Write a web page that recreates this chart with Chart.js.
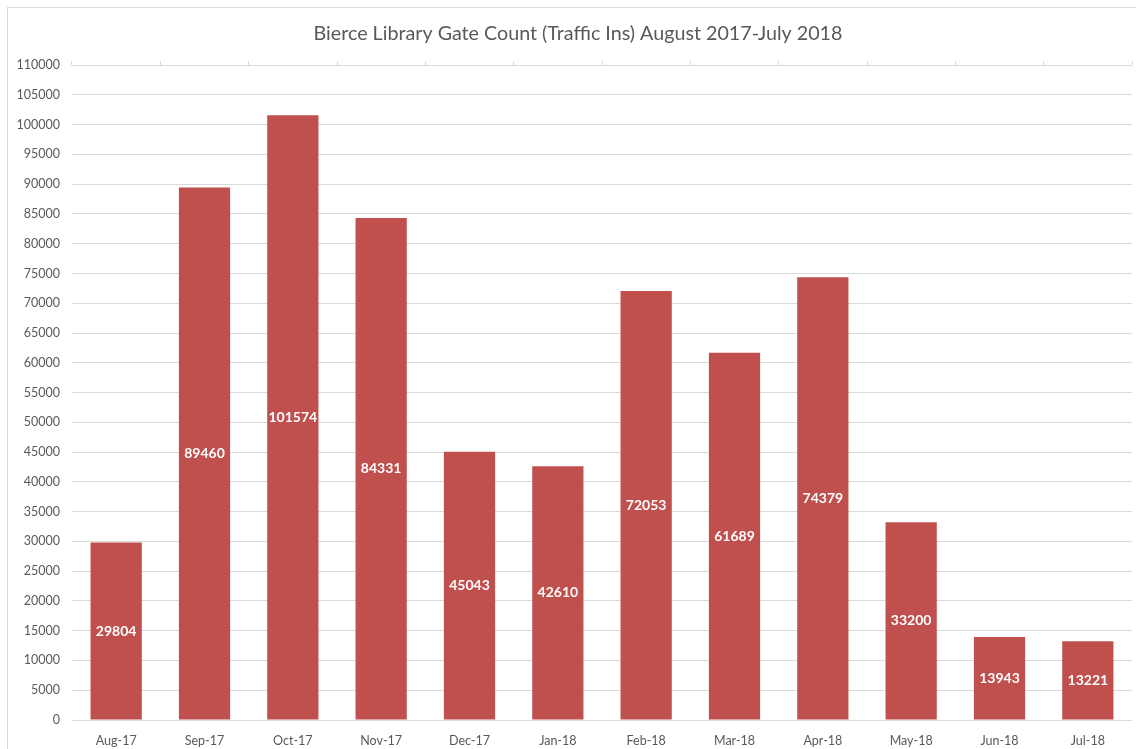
<!DOCTYPE html>
<html>
<head>
<meta charset="utf-8">
<title>Bierce Library Gate Count</title>
<script src="https://cdn.jsdelivr.net/npm/chart.js@4"></script>
<style>
    html, body { margin: 0; padding: 0; background: #fff; }
    #wrap { width: 1136px; height: 749px; position: relative; }
</style>
</head>
<body>
<div id="wrap"><canvas id="gateChart"></canvas></div>
<script>
const months = ['Aug-17', 'Sep-17', 'Oct-17', 'Nov-17', 'Dec-17', 'Jan-18',
                'Feb-18', 'Mar-18', 'Apr-18', 'May-18', 'Jun-18', 'Jul-18'];
const gateCounts = [29804, 89460, 101574, 84331, 45043, 42610,
                    72053, 61689, 74379, 33200, 13943, 13221];
const yMax = 110000;
const yStep = 5000;

const FONT = 'Lato, "Open Sans", sans-serif';
const GRID = '#d9d9d9';
const TEXT = '#595959';

// white background + the chart frame (left/top edges visible in the picture)
const frame = {
    id: 'frame',
    beforeDraw(chart) {
        const ctx = chart.ctx;
        ctx.save();
        ctx.fillStyle = '#fff';
        ctx.fillRect(0, 0, chart.width, chart.height);
        ctx.strokeStyle = GRID;
        ctx.lineWidth = 1;
        ctx.strokeRect(7.5, 7.5, chart.width + 20, chart.height + 20);
        ctx.restore();
    }
};

// Excel centres the title a little right of the canvas middle
const titleShift = {
    id: 'titleShift',
    afterLayout(chart) {
        if (chart.titleBlock) chart.titleBlock.left = 24;
    }
};

// value labels centred inside each bar
const barLabels = {
    id: 'barLabels',
    afterDatasetsDraw(chart) {
        const ctx = chart.ctx;
        const meta = chart.getDatasetMeta(0);
        ctx.save();
        ctx.fillStyle = '#fff';
        ctx.font = 'bold 14px ' + FONT;
        ctx.textAlign = 'center';
        ctx.textBaseline = 'middle';
        meta.data.forEach((bar, i) => {
            ctx.fillText(String(gateCounts[i]), bar.x, (bar.y + bar.base) / 2);
        });
        ctx.restore();
    }
};

new Chart(document.getElementById('gateChart'), {
    type: 'bar',
    data: {
        labels: months,
        datasets: [{
            label: 'Gate Count',
            data: gateCounts,
            backgroundColor: '#c0504d',
            barPercentage: 0.58,
            categoryPercentage: 1.0
        }]
    },
    options: {
        responsive: true,
        maintainAspectRatio: false,
        animation: false,
        layout: { padding: { left: 0, right: 4, top: 0, bottom: 0 } },
        plugins: {
            legend: { display: false },
            tooltip: { enabled: false },
            title: {
                display: true,
                text: 'Bierce Library Gate Count (Traffic Ins) August 2017-July 2018',
                color: TEXT,
                font: { family: FONT, size: 19.7, weight: 'normal' },
                padding: { top: 22, bottom: 15.5 }
            }
        },
        scales: {
            x: {
                afterFit(scale) { scale.height = 29; },
                grid: { display: false },
                border: { display: false },
                ticks: { color: TEXT, font: { family: FONT, size: 12.5 }, padding: 5, maxRotation: 0 }
            },
            xTop: {
                type: 'category',
                position: 'top',
                labels: months,
                offset: true,
                ticks: { display: false },
                border: { display: false },
                grid: { offset: true, drawOnChartArea: false, drawTicks: true, tickLength: 4, color: GRID }
            },
            y: {
                min: 0,
                max: yMax,
                afterFit(scale) { scale.width = 72; },
                border: { display: false },
                grid: { color: GRID, drawTicks: false },
                ticks: {
                    stepSize: yStep,
                    color: TEXT,
                    font: { family: FONT, size: 12.5 },
                    padding: 12,
                    callback: (v) => String(v)
                }
            }
        }
    },
    plugins: [frame, titleShift, barLabels]
});
</script>
</body>
</html>
